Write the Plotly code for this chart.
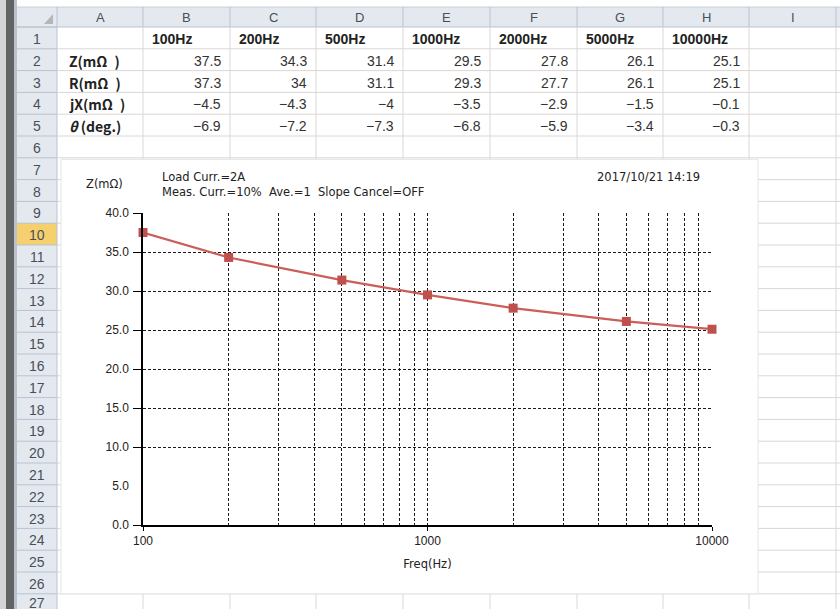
import plotly.graph_objects as go

# ---------------- data ----------------
freq_labels = ["100Hz", "200Hz", "500Hz", "1000Hz", "2000Hz", "5000Hz", "10000Hz"]
freqs = [100, 200, 500, 1000, 2000, 5000, 10000]
z_vals = [37.5, 34.3, 31.4, 29.5, 27.8, 26.1, 25.1]
r_vals = [37.3, 34, 31.1, 29.3, 27.7, 26.1, 25.1]
jx_vals = [-4.5, -4.3, -4, -3.5, -2.9, -1.5, -0.1]
theta_vals = [-6.9, -7.2, -7.3, -6.8, -5.9, -3.4, -0.3]
row_names = ["Z(mΩ\u2002)", "R(mΩ\u2002)", "jX(mΩ\u2002)", "<i>θ</i> (deg.)"]
col_letters = ["A", "B", "C", "D", "E", "F", "G", "H", "I"]
y_ticks = [0, 5, 10, 15, 20, 25, 30, 35, 40]
y_grid = [0, 10, 15, 20, 25, 30, 35, 40]
x_major = [100, 1000, 10000]
x_minor = [200, 300, 400, 500, 600, 700, 800, 900,
           2000, 3000, 4000, 5000, 6000, 7000, 8000, 9000]

# ---------------- layout constants (pixels) ----------------
W, H = 840, 609
def X(px):
    return px / W
def Y(py):
    return 1 - py / H

col_edges = [57, 143, 230, 316, 403, 490, 577, 663, 749, 836]
rowhdr_l, rowhdr_r = 17, 57
hdr_top, hdr_bot = 7, 27
row_h = 21.8
n_rows = 27
def row_top(k):
    return hdr_bot + (k - 1) * row_h

cell_line = "#DCD6D6"
hdr_line = "#B9C3CF"
hdr_fill = "#E4E9F0"
sel_fill = "#F6CF6E"
font_fam = "Liberation Sans, Arial, sans-serif"
cjk_fam = "Noto Sans CJK JP, Liberation Sans, sans-serif"
chart_fam = "DejaVu Sans, sans-serif"

shapes = []
def rect(x0, y0, x1, y1, fill, line=None, lw=0):
    shapes.append(dict(type="rect", xref="paper", yref="paper",
                       x0=X(x0), x1=X(x1), y0=Y(y1), y1=Y(y0),
                       fillcolor=fill, line=dict(color=line or fill, width=lw),
                       layer="below"))
def hline(x0, x1, y, color, w=1):
    shapes.append(dict(type="line", xref="paper", yref="paper",
                       x0=X(x0), x1=X(x1), y0=Y(y), y1=Y(y),
                       line=dict(color=color, width=w), layer="below"))
def vline(x, y0, y1, color, w=1):
    shapes.append(dict(type="line", xref="paper", yref="paper",
                       x0=X(x), x1=X(x), y0=Y(y0), y1=Y(y1),
                       line=dict(color=color, width=w), layer="below"))

# window frame on the left
rect(0, 0, 6, H, "#D4D4D4")
rect(6, 0, 14, H, "#636363")
rect(14, 0, 17, H, "#BCC2C9")
# headers
rect(17, hdr_top, W, hdr_bot, hdr_fill)
rect(rowhdr_l, hdr_bot, rowhdr_r, H, hdr_fill)
rect(rowhdr_l, row_top(10), rowhdr_r, row_top(11), sel_fill)
hline(17, W, hdr_top, "#C9CFD6")
hline(17, W, hdr_bot, hdr_line)
vline(rowhdr_r, hdr_top, H, hdr_line)
# corner triangle
shapes.append(dict(type="path", xref="paper", yref="paper",
                   path=f"M {X(53)} {Y(14)} L {X(53)} {Y(24)} L {X(44)} {Y(24)} Z",
                   fillcolor="#B5B5B5", line=dict(width=0), layer="below"))
# column header separators and cell grid
for cx in col_edges[1:]:
    vline(cx, hdr_top, hdr_bot, hdr_line)
    vline(cx, hdr_bot, H, cell_line)
for k in range(1, n_rows + 1):
    yb = row_top(k)
    if yb > H:
        break
    hline(rowhdr_l, rowhdr_r, yb, hdr_line)
    if k > 1:
        hline(rowhdr_r, W, yb, cell_line)
# chart area (embedded picture)
rect(61, row_top(7) + 1.5, 758, row_top(27), "white", "#E4E4E4", 1)

annotations = []
def txt(x, y, s, anchor="center", size=13, color="#222", bold=False, fam=font_fam):
    if bold:
        s = f"<b>{s}</b>"
    annotations.append(dict(x=X(x), y=Y(y), xref="paper", yref="paper", text=s,
                            showarrow=False, xanchor=anchor, yanchor="middle",
                            font=dict(family=fam, size=size, color=color)))

# column letters
for i, letter in enumerate(col_letters):
    cx = (col_edges[i] + col_edges[i + 1]) / 2
    txt(cx, (hdr_top + hdr_bot) / 2 + 1, letter, size=13, color="#4A4F57")
# row numbers
for k in range(1, n_rows + 1):
    txt((rowhdr_l + rowhdr_r) / 2, min(row_top(k) + row_h / 2 + 1, 603), str(k), size=14, color="#4A4F57")

# table contents
def fmt(v):
    return f"{v:g}".replace("-", "−")
for j, lab in enumerate(freq_labels):
    txt(col_edges[j + 1] + 7, row_top(1) + row_h / 2 + 1, lab, anchor="left", bold=True, size=14)
series = [z_vals, r_vals, jx_vals, theta_vals]
for i, (name, vals) in enumerate(zip(row_names, series)):
    yc = row_top(i + 2) + row_h / 2 + 1
    txt(67, yc, name, anchor="left", bold=True, size=14, fam=cjk_fam)
    for j, v in enumerate(vals):
        txt(col_edges[j + 2] - 7, yc, fmt(v), anchor="right", size=14, color="#333")

# chart texts
txt(84, 184, "Z(mΩ)", anchor="left", size=11.5, color="#222", fam=chart_fam)
txt(160, 177, "Load Curr.=2A", anchor="left", size=11.5, color="#222", fam=chart_fam)
txt(160, 192, "Meas. Curr.=10%  Ave.=1  Slope Cancel=OFF", anchor="left", size=11.5, color="#222", fam=chart_fam)
txt(595, 177, "2017/10/21 14:19", anchor="left", size=11.5, color="#222", fam=chart_fam)

fig = go.Figure()
fig.add_trace(go.Scatter(
    x=freqs, y=z_vals, mode="lines+markers",
    line=dict(color="#CC5E5A", width=2.2),
    marker=dict(symbol="square", size=9, color="#C0504D"),
    showlegend=False, cliponaxis=False,
))

grid_kw = dict(showgrid=True, gridcolor="#1A1A1A", gridwidth=1.4, griddash="3px,2px")

fig.update_layout(
    width=W, height=H,
    margin=dict(l=0, r=0, t=0, b=0, autoexpand=False),
    paper_bgcolor="white", plot_bgcolor="white",
    shapes=shapes, annotations=annotations,
    font=dict(family=font_fam, size=11, color="#222"),
    xaxis=dict(
        type="log", range=[2, 4], domain=[X(143), X(712)], automargin=False,
        showline=True, linecolor="black", linewidth=1.5,
        tickmode="array", tickvals=x_major, ticktext=[str(v) for v in x_major],
        ticks="outside", ticklen=4, tickcolor="black",
        zeroline=False, **grid_kw,
        minor=dict(tickvals=x_minor, ticks="", **grid_kw),
        title=dict(text="Freq(Hz)", standoff=13, font=dict(size=11.5, family=chart_fam)),
        tickfont=dict(size=12, color="#222"),
    ),
    yaxis=dict(
        range=[0, 40], domain=[Y(525), Y(213)], automargin=False,
        showline=True, linecolor="black", linewidth=1.5,
        tickmode="array", tickvals=y_ticks, ticktext=[f"{v:.1f}" for v in y_ticks],
        ticks="", showgrid=False, zeroline=False,
        ticklabelstandoff=10,
        minor=dict(tickvals=y_grid, ticks="outside", ticklen=8, tickcolor="black", **grid_kw),
        tickfont=dict(size=12, color="#222"),
    ),
)

fig.write_html("out.html", config={"displayModeBar": False},
               post_script="document.body.style.margin='0px';")
